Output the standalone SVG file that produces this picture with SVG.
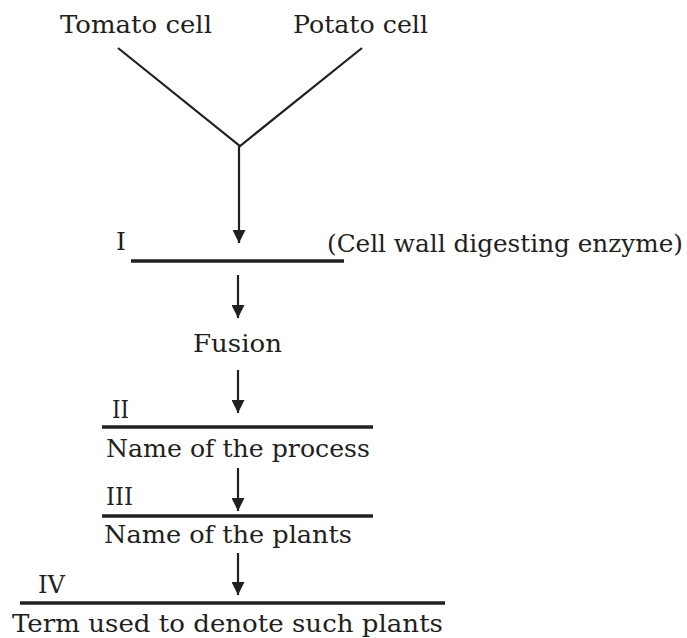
<svg xmlns="http://www.w3.org/2000/svg" width="687" height="638" viewBox="0 0 687 638">
<style>
text{font-family:"DejaVu Serif","Liberation Serif",serif;font-size:25px;fill:#231f20}
.ln{stroke:#231f20;stroke-width:2.2;fill:none}
.bar{stroke:#231f20;stroke-width:3.5;fill:none}
</style>
<defs>
<marker id="ad" markerUnits="userSpaceOnUse" markerWidth="13" markerHeight="13" viewBox="0 0 13 13" refX="6.5" refY="13" orient="0">
<path d="M0,0 L13,0 L6.5,13 Z" fill="#231f20"/>
</marker>
</defs>
<rect width="687" height="638" fill="#fff"/>
<g id="tomato"><text x="60" y="33" textLength="152" lengthAdjust="spacingAndGlyphs">Tomato cell</text></g>
<g id="potato"><text x="293" y="33" textLength="135" lengthAdjust="spacingAndGlyphs">Potato cell</text></g>
<g id="step1">
<text x="116" y="250">I</text>
<line class="bar" x1="131" y1="261" x2="344" y2="261"/>
<text x="327" y="252" textLength="356" lengthAdjust="spacingAndGlyphs">(Cell wall digesting enzyme)</text>
</g>
<g id="fusion"><text x="193" y="352" textLength="89" lengthAdjust="spacingAndGlyphs">Fusion</text></g>
<g id="step2">
<text x="112" y="418" textLength="17" lengthAdjust="spacingAndGlyphs">II</text>
<line class="bar" x1="102" y1="427" x2="373" y2="427"/>
<text x="106" y="457" textLength="264" lengthAdjust="spacingAndGlyphs">Name of the process</text>
</g>
<g id="step3">
<text x="106" y="505" textLength="27" lengthAdjust="spacingAndGlyphs">III</text>
<line class="bar" x1="102" y1="516" x2="373" y2="516"/>
<text x="104" y="543" textLength="248" lengthAdjust="spacingAndGlyphs">Name of the plants</text>
</g>
<g id="step4">
<text x="38" y="593" textLength="27" lengthAdjust="spacingAndGlyphs">IV</text>
<line class="bar" x1="20" y1="603" x2="445" y2="603"/>
<text x="12" y="632" textLength="431" lengthAdjust="spacingAndGlyphs">Term used to denote such plants</text>
</g>
<g id="connectors">
<polyline class="ln" points="118,48 240,146 362,48"/>
<line class="ln" x1="239" y1="146" x2="239" y2="243" marker-end="url(#ad)"/>
<line class="ln" x1="238" y1="275" x2="238" y2="318" marker-end="url(#ad)"/>
<line class="ln" x1="238" y1="370" x2="238" y2="413" marker-end="url(#ad)"/>
<line class="ln" x1="238" y1="468" x2="238" y2="511" marker-end="url(#ad)"/>
<line class="ln" x1="238" y1="553" x2="238" y2="595" marker-end="url(#ad)"/>
</g>
</svg>
